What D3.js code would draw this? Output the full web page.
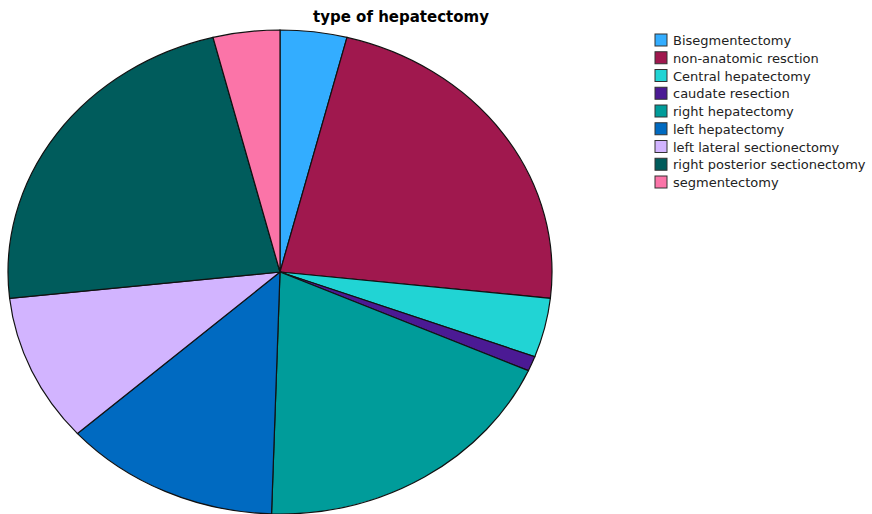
<!DOCTYPE html>
<head>
  <script src="https://d3js.org/d3.v7.min.js"></script>
  <style>
    body { margin: 0; background: #fff; }
    text { font-family: "DejaVu Sans", Verdana, sans-serif; }
  </style>
</head>
<body>
  <svg width="872" height="514"></svg>
  <script>
    const categories = ["Bisegmentectomy", "non-anatomic resction", "Central hepatectomy",
      "caudate resection", "right hepatectomy", "left hepatectomy",
      "left lateral sectionectomy", "right posterior sectionectomy", "segmentectomy"];
    const counts = [4, 23, 4, 1, 19, 13, 10, 23, 4];
    const colors = ["#33adff", "#a0184e", "#21d4d4", "#4b1a94", "#009c9a", "#006ac1",
      "#d2b4ff", "#005c5c", "#fb74a8"];

    const svg = d3.select("svg");
    const cx = 280, cy = 272, rx = 272, ry = 242;

    svg.append("text")
      .attr("x", 401).attr("y", 22)
      .attr("text-anchor", "middle")
      .style("font-weight", "bold")
      .style("font-size", "15px")
      .text("type of hepatectomy");

    const data = categories.map((c, i) => ({ name: c, value: counts[i], color: colors[i] }));
    const pie = d3.pie().sort(null).value(d => d.value);
    const arc = d3.arc().innerRadius(0).outerRadius(ry);

    svg.append("g")
      .attr("transform", `translate(${cx},${cy}) scale(${rx / ry},1)`)
      .selectAll("path")
      .data(pie(data))
      .enter().append("path")
      .attr("d", arc)
      .attr("fill", d => d.data.color)
      .attr("stroke", "#111")
      .attr("stroke-width", 1.2)
      .attr("vector-effect", "non-scaling-stroke");

    const legend = svg.append("g").attr("transform", "translate(655,34)");
    const row = legend.selectAll("g")
      .data(data)
      .enter().append("g")
      .attr("transform", (d, i) => `translate(0,${i * 17.75})`);
    row.append("rect")
      .attr("width", 12).attr("height", 12)
      .attr("fill", d => d.color)
      .attr("stroke", "#333").attr("stroke-width", 1);
    row.append("text")
      .attr("x", 18).attr("y", 11)
      .style("font-size", "13px")
      .attr("fill", "#222")
      .text(d => d.name);
  </script>
</body>
